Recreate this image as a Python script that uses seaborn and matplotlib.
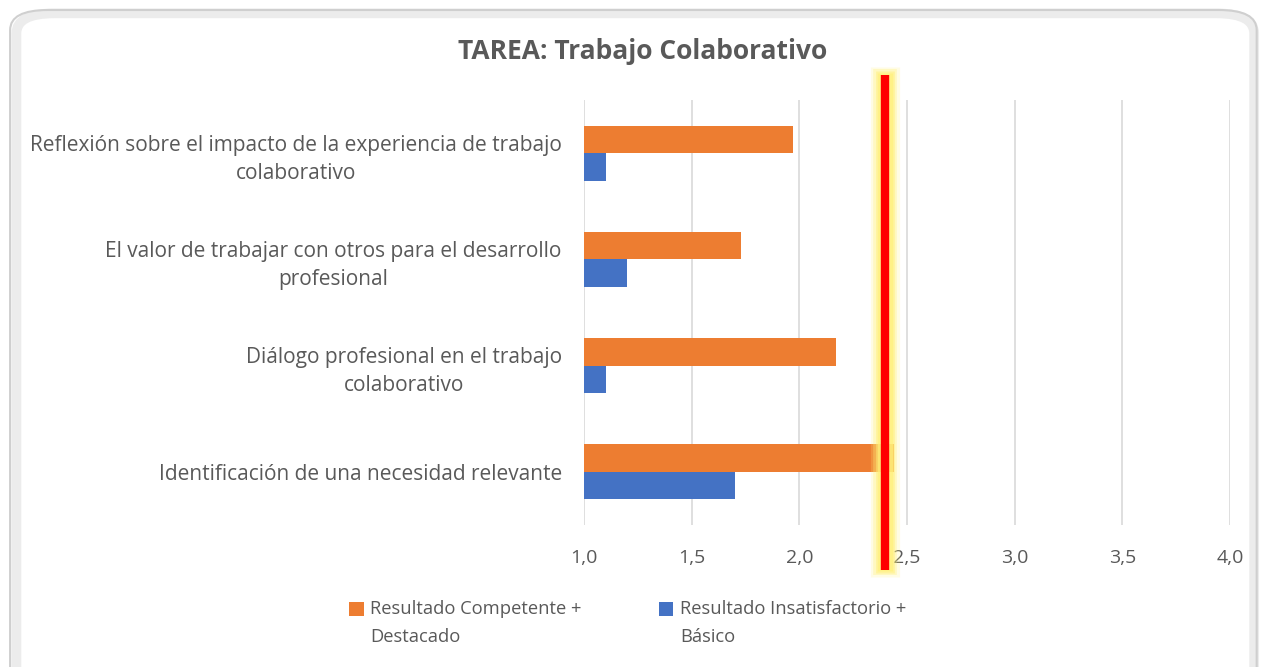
import matplotlib
matplotlib.use("Agg")
import matplotlib.pyplot as plt
import seaborn as sns
import pandas as pd
from matplotlib.patches import FancyBboxPatch, Rectangle
from matplotlib.legend_handler import HandlerPatch

categories = [
    "Reflexión sobre el impacto de la experiencia de trabajo\ncolaborativo",
    "El valor de trabajar con otros para el desarrollo\nprofesional",
    "Diálogo profesional en el trabajo\ncolaborativo",
    "Identificación de una necesidad relevante",
]
series_names = ["Resultado Competente +\nDestacado", "Resultado Insatisfactorio +\nBásico"]
competente = [1.97, 1.73, 2.17, 2.44]
insatisfactorio = [1.10, 1.20, 1.10, 1.70]
reference_value = 2.40
x_ticks = [1.0, 1.5, 2.0, 2.5, 3.0, 3.5, 4.0]
title = "TAREA: Trabajo Colaborativo"

df = pd.DataFrame({
    "cat": categories * 2,
    "serie": [series_names[0]] * 4 + [series_names[1]] * 4,
    "valor": competente + insatisfactorio,
})

sns.set_theme(style="white")
plt.rcParams["font.family"] = ["Open Sans", "DejaVu Sans"]
text_color = "#595959"

fig = plt.figure(figsize=(12.63, 6.67), dpi=100)
border_shadow = FancyBboxPatch((0.013, -0.05), 0.98, 1.03, boxstyle="round,pad=0,rounding_size=0.03",
                               transform=fig.transFigure, fc="none", ec="#ececec", lw=7, zorder=0)
border = FancyBboxPatch((0.008, -0.05), 0.987, 1.035, boxstyle="round,pad=0,rounding_size=0.03",
                        transform=fig.transFigure, fc="none", ec="#cfcfcf", lw=1.5, zorder=1)
fig.patches.extend([border_shadow, border])

ax = fig.add_axes([0.4624, 0.2129, 0.5115, 0.6371])
sns.barplot(data=df, y="cat", x="valor", hue="serie", orient="h",
            palette=["#ED7D31", "#4472C4"], width=0.52, gap=0, ax=ax,
            saturation=1, legend=True, errorbar=None, linewidth=0)

ax.set_xlim(1.0, 4.0)
ax.set_xticks(x_ticks)
ax.set_xticklabels([f"{t:.1f}".replace(".", ",") for t in x_ticks], color=text_color, fontsize=14)
ax.xaxis.grid(True, color="#d9d9d9", lw=1.2)
ax.set_axisbelow(True)
for s in ax.spines.values():
    s.set_visible(False)
ax.tick_params(axis="x", length=0, pad=17)
ax.tick_params(axis="y", length=0, pad=16)
ax.set_xlabel("")
ax.set_ylabel("")
for lab in ax.get_yticklabels():
    lab.set_multialignment("center")
    lab.set_color(text_color)
    lab.set_fontsize(15)
    lab.set_linespacing(1.45)

# reference line with soft glow
y0, y1 = -0.74, 3.92
for lw, a, ext in [(21, 0.2, 0.07), (17, 0.32, 0.05), (13.5, 0.5, 0.03), (11, 0.65, 0.015)]:
    ax.plot([reference_value, reference_value], [y0 - ext, y1 + ext], color="#FFF07A", lw=lw,
            alpha=a, solid_capstyle="butt", clip_on=False, zorder=5)
ax.plot([reference_value, reference_value], [y0, y1], color="#FF0000", lw=6,
        solid_capstyle="butt", clip_on=False, zorder=6)
ax.set_ylim(3.5, -0.5)

fig.text(0.509, 0.923, title, ha="center", va="center", fontsize=19, fontweight="bold", color=text_color)


def raised_square(legend, orig_handle, xdescent, ydescent, width, height, fontsize):
    return Rectangle((-xdescent, -ydescent + 0.8 * fontsize), width, height)


handles, labels = ax.get_legend_handles_labels()
ax.legend_.remove()
leg = fig.legend(handles, labels, loc="center", bbox_to_anchor=(0.497, 0.066), ncol=2, frameon=False,
                 fontsize=13.2, labelcolor=text_color, handlelength=0.8, handleheight=0.8,
                 handletextpad=0.35, columnspacing=4.2,
                 handler_map={h: HandlerPatch(patch_func=raised_square) for h in handles})
for t in leg.get_texts():
    t.set_linespacing(1.68)

fig.savefig("out.png", dpi=100)
